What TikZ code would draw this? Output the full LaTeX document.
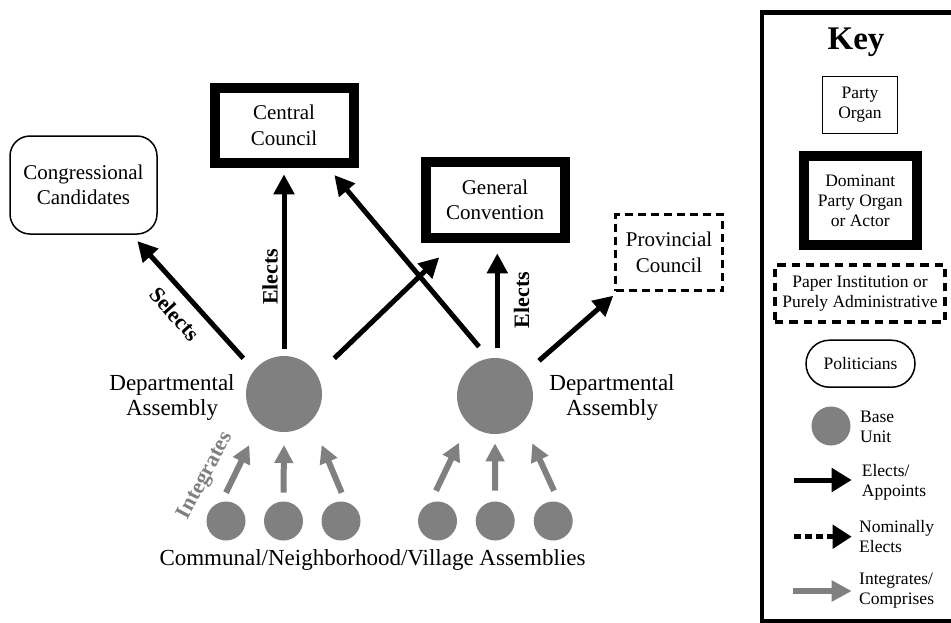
\documentclass[tikz,border=0pt]{standalone}
\usepackage{fontspec}
\setmainfont{Liberation Serif}
\usetikzlibrary{arrows.meta}
\definecolor{unitgray}{RGB}{128,128,128}
\begin{document}
\begin{tikzpicture}[x=1pt,y=-1pt,
  lbl/.style={font=\fontsize{21}{25.5}\selectfont, align=center, inner sep=0pt},
  big/.style={font=\fontsize{23}{25}\selectfont, align=center, inner sep=0pt},
  keytxt/.style={font=\fontsize{17.5}{20}\selectfont, align=center, inner sep=0pt},
  verb/.style={font=\fontsize{22}{24}\bfseries\selectfont, inner sep=0pt},
  politician/.style={draw, line width=1.5pt, rounded corners=20pt, lbl},
  dominant/.style={draw, line width=10pt, lbl},
  paper/.style={draw, line width=3.5pt, dash pattern=on 8pt off 5pt, lbl},
  unit/.style={circle, fill=unitgray, inner sep=0pt},
  elect/.style={line width=5pt, -{Triangle[length=20pt,width=20pt]}},
  integrate/.style={draw=unitgray, line width=6pt, -{Triangle[length=18pt,width=18pt]}},
]
\useasboundingbox (0,0) rectangle (951,622);

% --- organs and actors ---
\node[politician, minimum width=147pt, minimum height=98pt] (cand) at (83.5,185) {Congressional\\Candidates};
\node[dominant, minimum width=139pt, minimum height=75pt] (cc) at (284,125.5) {Central\\Council};
\node[dominant, minimum width=139pt, minimum height=76pt] (gc) at (495,200) {General\\Convention};
\node[paper, minimum width=107pt, minimum height=76pt] (pc) at (669,252.5) {Provincial\\Council};

% --- departmental assemblies ---
\node[unit, minimum size=76pt] (la) at (284,394) {};
\node[unit, minimum size=76pt] (ra) at (495,396) {};
\node[big] (lat) at (172,397) {Departmental\\Assembly};
\node[big] (rat) at (612,397) {Departmental\\Assembly};

% --- base units ---
\foreach \n/\x in {s1/226,s2/283.5,s3/341,s4/437.5,s5/495.2,s6/553.2}
  \node[unit, minimum size=39pt] (\n) at (\x,521) {};
\node[big] (base) at (372.5,560) {Communal/Neighborhood/Village Assemblies};

% --- elects / selects ---
\draw[elect] ([shift={(-40.7,-35.7)}]la.center) -- ([shift={(53.8,56)}]cand.center);
\draw[elect] ([shift={(0,-45)}]la.center) -- ([shift={(0,48.8)}]cc.center);
\draw[elect] ([shift={(50.3,-35.7)}]la.center) -- ([shift={(-55.7,57.3)}]gc.center);
\draw[elect] ([shift={(-16,-49.3)}]ra.center) -- ([shift={(50.3,49.5)}]cc.center);
\draw[elect] ([shift={(2.3,-47.7)}]ra.center) -- ([shift={(2.3,53.3)}]gc.center);
\draw[elect] ([shift={(44,-35.3)}]ra.center) -- ([shift={(-55.7,43.2)}]pc.center);

\node[verb, rotate=-48] (selects) at (175,314) {Selects};
\node[verb, rotate=90] (elL) at (270,276.7) {Elects};
\node[verb, rotate=90] (elR) at (521.7,300) {Elects};

% --- integrates ---
\draw[integrate] ([shift={(0,-28.3)}]s1.center) -- ([shift={(-34.7,51)}]la.center);
\draw[integrate] ([shift={(0,-28.3)}]s2.center) -- ([shift={(0,51)}]la.center);
\draw[integrate] ([shift={(0.7,-28.3)}]s3.center) -- ([shift={(37.7,51)}]la.center);
\draw[integrate] ([shift={(-1.5,-30.3)}]s4.center) -- ([shift={(-36,46.7)}]ra.center);
\draw[integrate] ([shift={(0,-30.3)}]s5.center) -- ([shift={(0,47.3)}]ra.center);
\draw[integrate] ([shift={(0.8,-30.3)}]s6.center) -- ([shift={(37.3,47.3)}]ra.center);
\node[verb, text=unitgray, rotate=62] (integ) at (206,476) {Integrates};

% --- key (its right side runs past the page edge) ---
\draw[line width=4.5pt] (762,12.5) rectangle (964,621);
\node[font=\fontsize{33}{36}\bfseries\selectfont, inner sep=0pt] (key) at (856,42) {Key};
\node[draw, line width=1.5pt, keytxt, minimum width=75pt, minimum height=57pt] (kparty) at (860,105) {Party\\Organ};
\node[draw, line width=10pt, keytxt, minimum width=112.7pt, minimum height=89.3pt] (kdom) at (860.3,200.3) {Dominant\\Party Organ\\or Actor};
\node[draw, line width=4pt, dash pattern=on 8.3pt off 6pt, keytxt, minimum width=170pt, minimum height=56.7pt] (kpaper) at (860,293.3) {Paper Institution or\\Purely Administrative};
\node[draw, line width=1.5pt, rounded corners=23.5pt, keytxt, minimum width=109pt, minimum height=47pt] (kpol) at (860.5,363.7) {Politicians};
\node[unit, minimum size=39pt] (kunit) at (831,426) {};
\node[keytxt, align=left, anchor=west] (kunitt) at (860,426.7) {Base\\Unit};

\node[keytxt, align=left, anchor=west] (kel) at (861.7,482) {Elects/\\Appoints};
\node[keytxt, align=left, anchor=west] (knom) at (859,537) {Nominally\\Elects};
\node[keytxt, align=left, anchor=west] (kint) at (859,591) {Integrates/\\Comprises};
\coordinate (kelA) at (794,480);
\coordinate (knomA) at (794,536.7);
\coordinate (kintA) at (793,591);
\draw[line width=5pt, -{Triangle[length=20pt,width=23pt]}] (kelA) -- ([xshift=-10pt]kel.west |- kelA);
\draw[line width=5pt, dash pattern=on 6.7pt off 4.3pt, -{Triangle[length=19pt,width=23pt]}] (knomA) -- ([xshift=-7.3pt]knom.west |- knomA);
\draw[integrate, -{Triangle[length=20pt,width=20pt]}] (kintA) -- ([xshift=-7.3pt]kint.west |- kintA);
\end{tikzpicture}
\end{document}
